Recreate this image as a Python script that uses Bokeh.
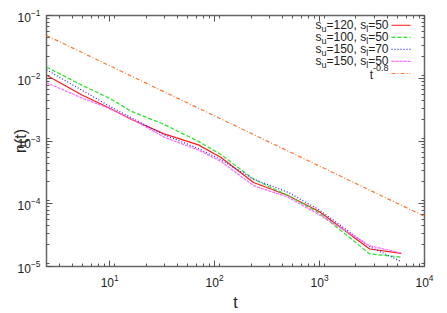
from bokeh.plotting import figure
from bokeh.models import LogAxis, Range1d, Label, Arrow, CustomJSTickFormatter, LogTicker
from bokeh.embed import file_html
from bokeh.resources import INLINE
import math

# ---- data ----
t_vals = [2.5, 5.5, 9.5, 16, 33, 70, 115, 235, 500, 1000, 3000, 6000]
n_120_50 = [0.0112, 0.00535, 0.00349, 0.00222, 0.0013, 0.000867, 0.000545, 0.000218, 0.0001355, 7.46e-5, 1.9e-5, 1.62e-5]
n_100_50 = [0.0151, 0.00765, 0.00499, 0.00299, 0.001835, 0.000986, 0.000607, 0.000246, 0.0001355, 7.05e-5, 1.59e-5, 1.41e-5]
n_150_70 = [0.0137, 0.0064, 0.00375, 0.002355, 0.001253, 0.00076, 0.000502, 0.000246, 0.0001524, 7.93e-5, 2.07e-5, 1.2e-5]
n_150_50 = [0.0085, 0.00481, 0.0034, 0.00227, 0.001153, 0.000718, 0.000472, 0.000194, 0.000127, 6.64e-5, 2.14e-5, 1.63e-5]
ref_t = [2.5, 10000]
ref_n = [0.048, 6.3e-5]

series = [
    ("120", "50", n_120_50, "#ff1a1a", "solid"),
    ("100", "50", n_100_50, "#22e622", "4 2"),
    ("150", "70", n_150_70, "#2222ff", "1 2"),
    ("150", "50", n_150_50, "#ff66ff", "3 1"),
]
ref_color = "#ff7733"
ref_dash = "4 2 1 2"

X0, X1 = 2.5, 1e4
Y0, Y1 = 1e-5, 1e-1

FONT = "Liberation Sans"

p = figure(width=447, height=313, x_axis_type="log", y_axis_type="log",
           x_range=Range1d(X0, X1), y_range=Range1d(Y0, Y1),
           output_backend="svg", toolbar_location=None,
           min_border_left=46, min_border_right=23, min_border_top=15, min_border_bottom=40)
p.grid.visible = False
p.outline_line_color = "#666666"
p.outline_line_width = 1.5
p.background_fill_color = "white"
p.border_fill_color = "white"

def style_axis(ax, labels=True):
    ax.axis_line_color = None
    ax.major_tick_in = 6
    ax.major_tick_out = 0
    ax.minor_tick_in = 3
    ax.minor_tick_out = 0
    ax.major_tick_line_color = "#555555"
    ax.minor_tick_line_color = "#555555"
    ax.major_label_text_font = FONT
    ax.major_label_text_font_size = "12px"
    ax.major_label_text_color = "#222222"
    ax.ticker.num_minor_ticks = 9
    if not labels:
        ax.formatter = CustomJSTickFormatter(code="return ''")
        ax.major_label_standoff = 0

style_axis(p.xaxis[0])
style_axis(p.yaxis[0])
p.xaxis[0].axis_label = "t"
p.yaxis[0].axis_label = "n(t)"
for ax in (p.xaxis[0], p.yaxis[0]):
    ax.axis_label_text_font = FONT
    ax.axis_label_text_font_style = "normal"
    ax.axis_label_text_font_size = "16px"
    ax.axis_label_text_color = "#222222"
p.xaxis[0].major_label_standoff = 7
p.xaxis[0].axis_label_standoff = 4
p.yaxis[0].major_label_standoff = 6
p.yaxis[0].axis_label_standoff = -14

ra = LogAxis(ticker=LogTicker())
style_axis(ra, labels=False)
p.add_layout(ra, "right")
ta = LogAxis(ticker=LogTicker())
style_axis(ta, labels=False)
p.add_layout(ta, "above")

for su, sl, vals, col, dash in series:
    p.line(t_vals, vals, line_color=col, line_dash=dash, line_width=1.2)
p.line(ref_t, ref_n, line_color=ref_color, line_dash=ref_dash, line_width=1.2)

# ---- legend (label left, sample right) ----
W = {'0': 556, '1': 556, '2': 556, '3': 556, '4': 556, '5': 556, '6': 556, '7': 556, '8': 556, '9': 556,
     '=': 584, ',': 278, ' ': 278, 's': 500, 'u': 556, 'l': 222, 't': 278, '-': 333, '.': 278}

def tw(s, size):
    return sum(W[c] for c in s) * size / 1000.0

FW, FH = 378.0, 258.0
lx0, lx1 = math.log10(X0), math.log10(X1)
ly0, ly1 = math.log10(Y0), math.log10(Y1)

def dx(px):  # px from frame left
    return 10 ** (lx0 + px / FW * (lx1 - lx0))

def dy(py):  # py from frame top
    return 10 ** (ly1 - py / FH * (ly1 - ly0))

MAIN, SUB = 12, 9
text_right = 342.0
samp0, samp1 = 345.0, 364.0
rows = [10.0 + 12.4 * i for i in range(5)]

def lab(x, y, text, size, xo, yo):
    p.add_layout(Label(x=x, y=y, text=text, text_font=FONT, text_font_size=f"{size}px",
                       text_align="right", text_baseline="middle", text_color="#222222",
                       x_offset=xo, y_offset=yo))

for i, (su, sl, vals, col, dash) in enumerate(series):
    X, Y = dx(text_right), dy(rows[i])
    pieces = [("=" + sl, MAIN, 0), ("l", SUB, -4), ("=" + su + ", s", MAIN, 0), ("u", SUB, -4), ("s", MAIN, 0)]
    off = 0.0
    for txt, sz, yo in pieces:
        lab(X, Y, txt, sz, -off, yo)
        off += tw(txt, sz)
    p.add_layout(Arrow(end=None, x_start=dx(samp0), y_start=Y, x_end=dx(samp1), y_end=Y,
                       line_color=col, line_dash=dash, line_width=1.2))

X, Y = dx(text_right), dy(rows[4])
lab(X, Y, "-0.8", SUB, 0, 5)
lab(X, Y, "t", MAIN, -tw("-0.8", SUB), -2)
p.add_layout(Arrow(end=None, x_start=dx(samp0), y_start=Y, x_end=dx(samp1), y_end=Y,
                   line_color=ref_color, line_dash=ref_dash, line_width=1.2))

open("out.html", "w").write(file_html(p, INLINE))
